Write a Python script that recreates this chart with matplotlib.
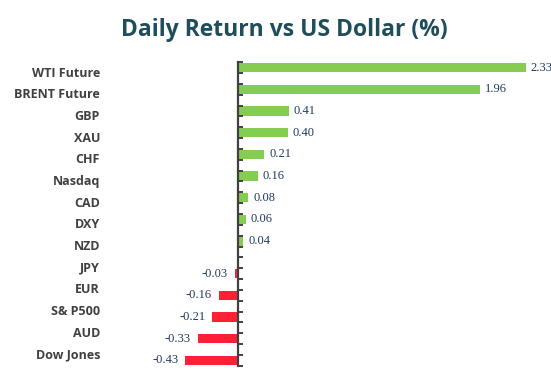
import matplotlib.pyplot as plt
import matplotlib.transforms as mtransforms

categories = ['WTI Future', 'BRENT Future', 'GBP', 'XAU', 'CHF', 'Nasdaq', 'CAD',
              'DXY', 'NZD', 'JPY', 'EUR', 'S& P500', 'AUD', 'Dow Jones']
values = [2.33, 1.96, 0.41, 0.40, 0.21, 0.16, 0.08,
          0.06, 0.04, -0.03, -0.16, -0.21, -0.33, -0.43]

green = '#84CC52'
red = '#FF2035'
label_col = '#404040'
value_col = '#1F3A60'
title_col = '#1E4D5C'

fig = plt.figure(figsize=(5.51, 3.77), dpi=100)
W, H = 551, 377
left_px, right_px = 160, 551
top_px, bot_px = 62.3, 365.7
zero_px, px_per_unit = 238.3, 123.3
ax = fig.add_axes([left_px / W, 1 - bot_px / H, (right_px - left_px) / W, (bot_px - top_px) / H])
ax.set_xlim((left_px - zero_px) / px_per_unit, (right_px - zero_px) / px_per_unit)
ax.set_ylim(2 * len(categories), 0)

# each category uses two slots: positive series on top, negative series below
for i, (cat, v) in enumerate(zip(categories, values)):
    if v >= 0:
        y = 2 * i + 0.5
        ax.barh(y, v, height=0.85, color=green)
        ax.annotate(f'{v:.2f}', (v, y), xytext=(3.5, 0), textcoords='offset points',
                    ha='left', va='center', fontsize=9, color=value_col,
                    family='Liberation Serif', annotation_clip=False)
    else:
        y = 2 * i + 1.5
        ax.barh(y, v, height=0.85, color=red)
        ax.annotate(f'{v:.2f}', (v, y), xytext=(-5, 0), textcoords='offset points',
                    ha='right', va='center', fontsize=9, color=value_col,
                    family='Liberation Serif', annotation_clip=False)

trans = mtransforms.blended_transform_factory(fig.transFigure, ax.transData)
for i, cat in enumerate(categories):
    ax.text(100 / W, 2 * i + 1, cat, transform=trans, ha='right', va='center',
            fontsize=9, fontweight='bold', color=label_col, family='Open Sans')

for s in ['top', 'right', 'bottom']:
    ax.spines[s].set_visible(False)
ax.spines['left'].set_position(('data', 0))
ax.spines['left'].set_color('#404040')
ax.spines['left'].set_linewidth(1.6)
ax.set_yticks(range(0, 2 * len(categories) + 1))
ax.set_yticklabels([])
ax.tick_params(axis='y', direction='in', length=3.5, width=1.4, color='#404040')
ax.set_xticks([])

fig.text(284 / W, 1 - 30 / H, 'Daily Return vs US Dollar (%)', ha='center', va='center',
         fontsize=16.5, fontweight='bold', color=title_col, family='Open Sans')

fig.savefig('out.png', dpi=100)
